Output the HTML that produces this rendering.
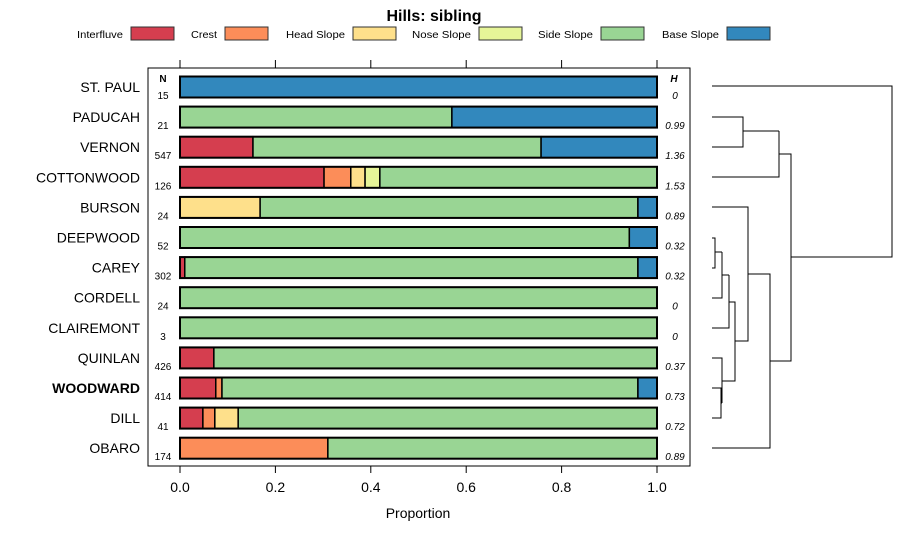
<!DOCTYPE html>
<html><head><meta charset="utf-8"><style>
body{margin:0;background:#fff;font-family:"Liberation Sans",sans-serif}
</style></head><body>
<svg id="c" width="900" height="540" xmlns="http://www.w3.org/2000/svg" font-family="Liberation Sans, sans-serif">
<text x="434" y="21" text-anchor="middle" font-size="16" font-weight="bold">Hills: sibling</text>
<g id="legend"></g>
<rect x="148" y="68" width="542" height="398" fill="none" stroke="#000" stroke-width="1"/>
<g id="bars"></g>
<g id="axis"></g>
<text x="418" y="518" text-anchor="middle" font-size="14">Proportion</text>
<text x="163" y="82" text-anchor="middle" font-size="10" font-weight="bold">N</text>
<text x="674" y="82" text-anchor="middle" font-size="10" font-weight="bold" font-style="italic">H</text>
<g fill="none" stroke="#000" stroke-width="1">
<path d="M712 86H892V257H791"/>
<path d="M712 117H743V147H712M743 131H779"/>
<path d="M712 177H779V131M779 154H791V361H770"/>
<path d="M712 207H748V341H735"/>
<path d="M712 238H715V268H712M715 252H722"/>
<path d="M712 298H722V252M722 275H729"/>
<path d="M712 328H729V275M729 302H735V381H722"/>
<path d="M712 358H722V403M712 388H721V418H712M721 403H722M722 381H735"/>
<path d="M748 274H770V448H712"/>
</g>
</svg>
<script>
const categories=["ST. PAUL","PADUCAH","VERNON","COTTONWOOD","BURSON","DEEPWOOD","CAREY","CORDELL","CLAIREMONT","QUINLAN","WOODWARD","DILL","OBARO"];
const classes=["Interfluve","Crest","Head Slope","Nose Slope","Side Slope","Base Slope"];
const colors=["#D53E4F","#FC8D59","#FEE08B","#E6F598","#99D594","#3288BD"];
const interfluve=[0,0,0.153,0.302,0,0,0.01,0,0,0.071,0.075,0.048,0];
const crest=[0,0,0,0.056,0,0,0,0,0,0,0.013,0.025,0.31];
const headSlope=[0,0,0,0.03,0.168,0,0,0,0,0,0,0.049,0];
const noseSlope=[0,0,0,0.031,0,0,0,0,0,0,0,0,0];
const sideSlope=[0,0.57,0.604,0.581,0.792,0.942,0.95,1,1,0.929,0.872,0.878,0.69];
const baseSlope=[1,0.43,0.243,0,0.04,0.058,0.04,0,0,0,0.04,0,0];
const nVals=[15,21,547,126,24,52,302,24,3,426,414,41,174];
const hVals=["0","0.99","1.36","1.53","0.89","0.32","0.32","0","0","0.37","0.73","0.72","0.89"];
const ticks=[0,0.2,0.4,0.6,0.8,1.0];
const tickLabels=["0.0","0.2","0.4","0.6","0.8","1.0"];
const NS="http://www.w3.org/2000/svg";
const xs=v=>180+v*477;
const ys=i=>87+i*30.1;
function mk(t,a,p){const e=document.createElementNS(NS,t);for(const k in a)e.setAttribute(k,a[k]);p.appendChild(e);return e;}
const series=[interfluve,crest,headSlope,noseSlope,sideSlope,baseSlope];
const bars=document.getElementById('bars');
categories.forEach((c,i)=>{
  const y=ys(i);
  const lab=mk('text',{x:140,y:y+5,'text-anchor':'end','font-size':14,'font-weight':c==="WOODWARD"?'bold':'normal'},bars);
  lab.textContent=c;
  
  
  let acc=0;
  series.forEach((s,k)=>{
    if(s[i]<=0)return;
    const r=mk('rect',{x:xs(acc),y:y-10.5,width:xs(acc+s[i])-xs(acc),height:21,fill:colors[k],stroke:'#000','stroke-width':1.5},bars);
    
    
    acc+=s[i];
  });
  const o=mk('rect',{x:xs(0),y:y-10.5,width:xs(1)-xs(0),height:21,fill:'none',stroke:'#000','stroke-width':2},bars);
  
  
  const n=mk('text',{x:163,y:y+12,'text-anchor':'middle','font-size':10},bars);
  n.textContent=nVals[i];
  
  
  const h=mk('text',{x:675,y:y+12,'text-anchor':'middle','font-size':10,'font-style':'italic'},bars);
  h.textContent=hVals[i];
  
  
});
const ax=document.getElementById('axis');
ticks.forEach((t,i)=>{
  const l1=mk('line',{x1:xs(t),x2:xs(t),y1:466,y2:473,stroke:'#000'},ax);
  
  
  const l2=mk('line',{x1:xs(t),x2:xs(t),y1:60,y2:68,stroke:'#000'},ax);
  
  
  const tx=mk('text',{x:xs(t),y:492,'text-anchor':'middle','font-size':14},ax);
  tx.textContent=tickLabels[i];
  
  
});
const lg=document.getElementById('legend');
const lx=[131,225,353,479,601,727];
const lw=[46,26,59,59,55,57];
classes.forEach((c,k)=>{
  const t=mk('text',{x:lx[k]-8-lw[k],y:38,'font-size':10,textLength:lw[k],lengthAdjust:'spacingAndGlyphs'},lg);
  t.textContent=c;
  
  
  const r=mk('rect',{x:lx[k],y:27,width:43,height:13,fill:colors[k],stroke:'#333','stroke-width':1},lg);
  
  
});
</script>
</body></html>
